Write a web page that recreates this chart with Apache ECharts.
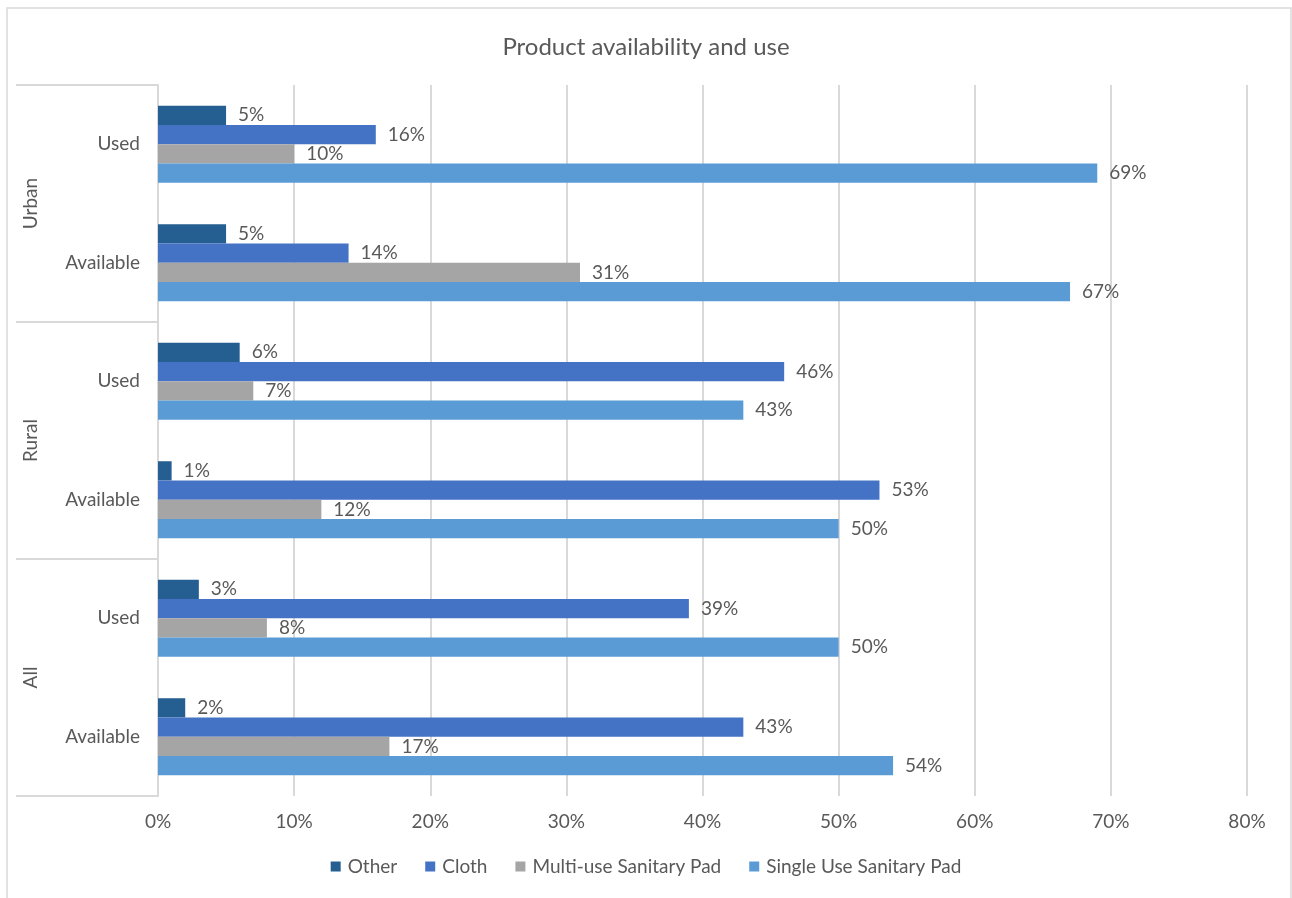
<!DOCTYPE html>
<html>
<head>
<meta charset="utf-8">
<script src="https://cdn.jsdelivr.net/npm/echarts@6/dist/echarts.min.js"></script>
<style>
html,body{margin:0;padding:0;background:#fff;}
#chart{width:1292px;height:898px;}
</style>
</head>
<body>
<div id="chart"></div>
<script>
// Categories (bottom to top, as drawn on the category axis)
const groups = ['All', 'Rural', 'Urban'];
const subCategories = ['Available', 'Used', 'Available', 'Used', 'Available', 'Used'];
// Series values in percent, same order as subCategories
const otherValues   = [2, 3, 1, 6, 5, 5];
const clothValues   = [43, 39, 53, 46, 14, 16];
const multiValues   = [17, 8, 12, 7, 31, 10];
const singleValues  = [54, 50, 50, 43, 67, 69];
const seriesNames = ['Other', 'Cloth', 'Multi-use Sanitary Pad', 'Single Use Sanitary Pad'];
const xTicks = [0, 10, 20, 30, 40, 50, 60, 70, 80];

const FONT = 'Lato, "Open Sans", sans-serif';
const TXT = '#595959';
const GRID = '#d9d9d9';

const chart = echarts.init(document.getElementById('chart'));

function barSeries(name, data, color) {
  return {
    name: name,
    type: 'bar',
    data: data,
    barGap: '0%',
    barCategoryGap: '35%',
    itemStyle: { color: color },
    label: {
      show: true,
      position: 'right',
      distance: 12,
      formatter: '{c}%',
      color: TXT,
      fontFamily: FONT,
      fontSize: 19
    }
  };
}

chart.setOption({
  animation: false,
  textStyle: { fontFamily: FONT },
  title: {
    text: 'Product availability and use',
    left: 'center',
    top: 30,
    textStyle: { fontFamily: FONT, fontSize: 24, fontWeight: 'normal', color: TXT }
  },
  graphic: [{
    type: 'rect',
    shape: { x: 7, y: 8, width: 1284, height: 900 },
    style: { fill: 'none', stroke: GRID, lineWidth: 1.5 },
    silent: true
  }],
  legend: {
    data: seriesNames,
    bottom: 17,
    left: 'center',
    itemWidth: 10,
    itemHeight: 10,
    itemGap: 28,
    icon: 'rect',
    textStyle: { fontFamily: FONT, fontSize: 19, color: TXT, padding: [0, 0, 0, 2] }
  },
  grid: { left: 158, right: 45, top: 85, bottom: 102, containLabel: false },
  xAxis: {
    type: 'value',
    min: xTicks[0],
    max: xTicks[xTicks.length - 1],
    interval: 10,
    axisLine: { show: false },
    axisTick: { show: false },
    axisLabel: { formatter: '{value}%', color: TXT, fontSize: 19, fontFamily: FONT, margin: 16 },
    splitLine: { show: true, lineStyle: { color: GRID, width: 2 } }
  },
  yAxis: [{
    type: 'category',
    data: subCategories,
    position: 'left',
    axisLine: { show: true, lineStyle: { color: GRID, width: 2 } },
    axisTick: { show: false },
    axisLabel: { color: TXT, fontSize: 19, fontFamily: FONT, margin: 18 }
  }, {
    type: 'category',
    data: groups,
    position: 'left',
    offset: 142,
    axisLine: { show: false },
    axisTick: { show: true, inside: true, length: 142, lineStyle: { color: GRID, width: 2 } },
    axisLabel: { color: TXT, fontSize: 19, fontFamily: FONT, rotate: 90, inside: true, margin: 5 }
  }],
  series: [
    barSeries(seriesNames[0], otherValues, '#255E91'),
    barSeries(seriesNames[1], clothValues, '#4472C4'),
    barSeries(seriesNames[2], multiValues, '#A5A5A5'),
    barSeries(seriesNames[3], singleValues, '#5B9BD5')
  ]
});
</script>
</body>
</html>
